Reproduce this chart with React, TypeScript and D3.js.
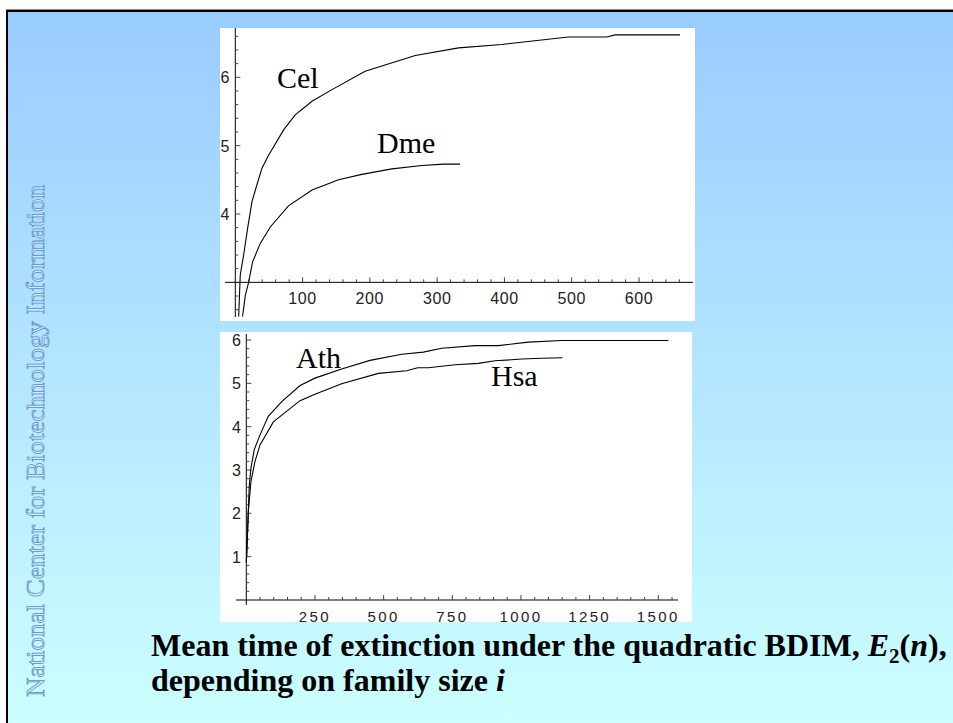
import React from 'react';
import * as d3 from 'd3';

// top panel: C. elegans and D. melanogaster
const celX = [5, 7.4, 12.4, 18.3, 24.8, 30.7, 39.6, 49.5, 71.8, 89, 114, 143.7, 193, 267.5, 331.8, 396, 495, 552, 564.6, 661];
const celY = [2.5, 3.11, 3.4, 3.79, 4.18, 4.38, 4.67, 4.86, 5.23, 5.45, 5.65, 5.82, 6.09, 6.32, 6.43, 6.48, 6.59, 6.59, 6.62, 6.62];
const dmeX = [10.8, 14.9, 19.8, 25.7, 37.1, 52, 79, 114, 153.5, 188, 232.8, 277.4, 309.5, 334];
const dmeY = [2.5, 2.81, 3.0, 3.3, 3.57, 3.81, 4.12, 4.35, 4.5, 4.58, 4.66, 4.71, 4.73, 4.73];

// bottom panel: A. thaliana and H. sapiens
const athX = [0, 3.6, 11, 17, 29, 50, 80, 129, 195.6, 250, 347, 450.5, 566, 644.6, 711.6, 833, 918, 1027, 1148.6, 1537];
const athY = [0.86, 1.44, 2.66, 3.05, 3.47, 3.81, 4.24, 4.58, 4.95, 5.12, 5.33, 5.53, 5.67, 5.72, 5.81, 5.87, 5.87, 5.95, 5.99, 5.99];
const hsaX = [1.4, 7.4, 17, 31.7, 50, 98.5, 195.6, 250, 347, 481, 584, 624, 663, 760, 845, 905.7, 1003, 1076, 1151];
const hsaY = [0.98, 2.05, 2.74, 3.2, 3.58, 4.11, 4.6, 4.75, 4.99, 5.23, 5.29, 5.36, 5.36, 5.43, 5.46, 5.52, 5.56, 5.58, 5.59];

const topXTicks = [100, 200, 300, 400, 500, 600];
const topYTicks = [4, 5, 6];
const botXTicks = [250, 500, 750, 1000, 1250, 1500];
const botYTicks = [1, 2, 3, 4, 5, 6];

const sideText = 'National Center for Biotechnology Information';

const W = 953;
const H = 723;

const tickFont = '"Liberation Sans", Arial, sans-serif';
const serif = '"Liberation Serif", "Times New Roman", serif';

const zip = (xs: number[], ys: number[]) => xs.map((x, i) => [x, ys[i]] as [number, number]);

const App: React.FC = () => {
  // top panel scales
  const x1 = d3.scaleLinear().domain([0, 600]).range([235.3, 639]);
  const y1 = d3.scaleLinear().domain([4, 6]).range([214, 77.3]);
  // bottom panel scales
  const x2 = d3.scaleLinear().domain([0, 1500]).range([246.3, 658.3]);
  const y2 = d3.scaleLinear().domain([0, 6]).range([600, 340]);

  const line1 = d3.line<[number, number]>().x(d => x1(d[0])).y(d => y1(d[1]));
  const line2 = d3.line<[number, number]>().x(d => x2(d[0])).y(d => y2(d[1]));

  const axisY1 = y1(3);
  const axisY2 = y2(0);

  const topXMinor = d3.range(20, 661, 20).filter(v => v % 100 !== 0);
  const topYMinor = d3.range(26, 67, 2).map(v => v / 10).filter(v => Math.abs(v - Math.round(v)) > 0.01 && Math.abs(v - 3) > 0.01);
  const botXMinor = d3.range(50, 1551, 50).filter(v => v % 250 !== 0);
  const botYMinor = d3.range(2, 61, 2).map(v => v / 10).filter(v => Math.abs(v - Math.round(v)) > 0.01);

  return (
    <div style={{ position: 'absolute', left: 0, top: 0 }}>
      <svg width={W} height={H} style={{ display: 'block' }}>
        <defs>
          <linearGradient id="bg" x1="0" y1="0" x2="0" y2="1">
            <stop offset="0" stopColor="#99ccff" />
            <stop offset="1" stopColor="#ccffff" />
          </linearGradient>
          <clipPath id="clipTop">
            <rect x={220} y={28} width={475} height={289} />
          </clipPath>
        </defs>
        <rect x={0} y={0} width={W} height={H} fill="#ffffff" />
        <rect x={6} y={9} width={W - 6} height={1} fill="#888" />
        <rect x={6} y={10} width={W - 6} height={H - 10} fill="#000" />
        <rect x={8} y={12} width={W - 8} height={H - 12} fill="url(#bg)" />

        {/* side bar text */}
        <text
          transform="translate(44,697) rotate(-90)"
          fontFamily={serif}
          fontSize={25}
          textLength={512}
          lengthAdjust="spacingAndGlyphs"
          fill="#d2ebff"
          stroke="#5a8bca"
          strokeWidth={0.7}
        >
          {sideText}
        </text>

        {/* top panel */}
        <rect x={220} y={28} width={475} height={293} fill="#fff" />
        <g stroke="#000" strokeWidth={1} fill="none">
          <line x1={225} x2={693} y1={axisY1} y2={axisY1} />
          <line x1={x1(0)} x2={x1(0)} y1={28} y2={317} />
        </g>
        <g stroke="#444" strokeWidth={1}>
          {topXTicks.map(v => (
            <line key={'tx' + v} x1={x1(v)} x2={x1(v)} y1={axisY1} y2={axisY1 - 5} />
          ))}
          {topXMinor.map(v => (
            <line key={'tm' + v} x1={x1(v)} x2={x1(v)} y1={axisY1} y2={axisY1 - 3} />
          ))}
          {topYTicks.map(v => (
            <line key={'ty' + v} x1={x1(0)} x2={x1(0) + 5} y1={y1(v)} y2={y1(v)} />
          ))}
          {topYMinor.map(v => (
            <line key={'tym' + v} x1={x1(0)} x2={x1(0) + 3} y1={y1(v)} y2={y1(v)} />
          ))}
        </g>
        <g fontFamily={tickFont} fontSize={16} fill="#222" letterSpacing={0.6}>
          {topXTicks.map(v => (
            <text key={'txl' + v} x={x1(v)} y={axisY1 + 22} textAnchor="middle">{v}</text>
          ))}
          {topYTicks.map(v => (
            <text key={'tyl' + v} x={230} y={y1(v) + 6} textAnchor="end">{v}</text>
          ))}
        </g>
        <g clipPath="url(#clipTop)" fill="none" stroke="#000" strokeWidth={1.1}>
          <path d={line1(zip(celX, celY)) || ''} />
          <path d={line1(zip(dmeX, dmeY)) || ''} />
        </g>
        <text x={277} y={88} fontFamily={serif} fontSize={30} fill="#000">Cel</text>
        <text x={377} y={153} fontFamily={serif} fontSize={30} fill="#000">Dme</text>

        {/* bottom panel */}
        <rect x={220} y={332} width={472} height={290} fill="#fff" />
        <g stroke="#000" strokeWidth={1} fill="none">
          <line x1={236} x2={678} y1={axisY2} y2={axisY2} />
          <line x1={x2(0)} x2={x2(0)} y1={334} y2={605} />
        </g>
        <g stroke="#444" strokeWidth={1}>
          {botXTicks.map(v => (
            <line key={'bx' + v} x1={x2(v)} x2={x2(v)} y1={axisY2} y2={axisY2 - 5} />
          ))}
          {botXMinor.map(v => (
            <line key={'bm' + v} x1={x2(v)} x2={x2(v)} y1={axisY2} y2={axisY2 - 3} />
          ))}
          {botYTicks.map(v => (
            <line key={'by' + v} x1={x2(0)} x2={x2(0) + 5} y1={y2(v)} y2={y2(v)} />
          ))}
          {botYMinor.map(v => (
            <line key={'bym' + v} x1={x2(0)} x2={x2(0) + 3} y1={y2(v)} y2={y2(v)} />
          ))}
        </g>
        <g fontFamily={tickFont} fontSize={15} fill="#222">
          {botXTicks.map(v => (
            <text key={'bxl' + v} x={x2(v)} y={axisY2 + 22} textAnchor="middle" letterSpacing={2.4}>{v}</text>
          ))}
          {botYTicks.map(v => (
            <text key={'byl' + v} x={241} y={y2(v) + 6} textAnchor="end" fontSize={16}>{v}</text>
          ))}
        </g>
        <g fill="none" stroke="#000" strokeWidth={1.1}>
          <path d={line2(zip(athX, athY)) || ''} />
          <path d={line2(zip(hsaX, hsaY)) || ''} />
        </g>
        <text x={296} y={368} fontFamily={serif} fontSize={30} fill="#000">Ath</text>
        <text x={491} y={386} fontFamily={serif} fontSize={30} fill="#000">Hsa</text>

        {/* caption */}
        <text x={151} y={656} fontFamily={serif} fontSize={32} fontWeight="bold" fill="#000">
          Mean time of extinction under the quadratic BDIM,{' '}
          <tspan fontStyle="italic">E</tspan>
          <tspan fontSize={21} dy={7}>2</tspan>
          <tspan dy={-7}>(</tspan>
          <tspan fontStyle="italic">n</tspan>
          <tspan>),</tspan>
        </text>
        <text x={151} y={691} fontFamily={serif} fontSize={32} fontWeight="bold" fill="#000">
          depending on family size <tspan fontStyle="italic">i</tspan>
        </text>
      </svg>
    </div>
  );
};

export default App;
